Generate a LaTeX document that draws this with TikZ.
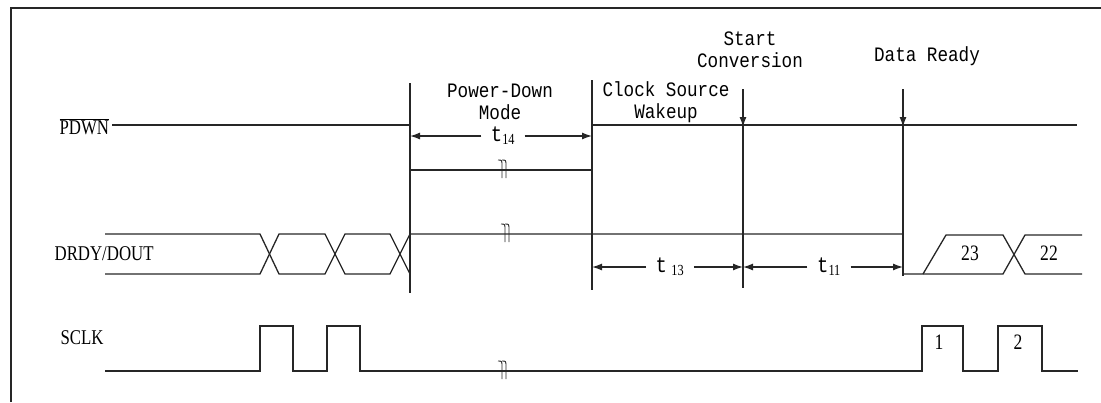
\documentclass[tikz,border=0pt]{standalone}
\usepackage{fontspec}
\setmainfont{Liberation Serif}[FakeStretch=0.8]
\newfontfamily\monofont{Liberation Mono}[FakeStretch=0.86]
\usetikzlibrary{arrows.meta}

\begin{document}
\begin{tikzpicture}[
  x=1pt, y=-1pt,
  line width=1.3pt, draw=black!85,
  every node/.style = {inner sep=0pt, align=center},
  signame/.style = {anchor=west, font=\fontsize{21}{21}\selectfont},
  busval/.style = {font=\fontsize{22}{22}\selectfont},
  note/.style = {font=\monofont\fontsize{20.5}{22}\selectfont},
  period/.style = {inner xsep=9pt, font=\fontsize{22}{22}\selectfont},
  strobe/.style = {-{Latex[length=10pt,width=7pt]}},
  span/.style = {-{Latex[length=10pt,width=7pt]}},
  brk/.pic = {
    \draw[line width=0.9pt] (-4,-10) .. controls (0,-10) .. (0,-4) -- (0,8);
    \draw[line width=0.9pt] (0,-10) .. controls (4,-10) .. (4,-4) -- (4,8);
  }
]
  \useasboundingbox (0,0) rectangle (1101,402);
  \draw[line width=2pt] (11,402) |- (1101,8);

  \coordinate (v1) at (410,83);
  \coordinate (v2) at (592,80);
  \coordinate (v3) at (743,89);
  \coordinate (v4) at (903,89);

  \node[signame] (pdwn) at (59,127) {$\overline{\mbox{PDWN}}$};
  \node[signame] (drdy) at (54,254) {DRDY/DOUT};
  \node[signame] (sclk) at (60,338) {SCLK};

  \node[note] (pdm) at (500,102) {Power-Down\\Mode};
  \node[note] (csw) at (666,102) {Clock Source\\Wakeup};
  \node[note] (sc) at (750,50) {Start\\Conversion};
  \node[note] (dr) at (927,56) {Data Ready};

  \draw (112,125) -- (410,125) (410,170) -- (592,170) (592,125) -- (1077,125);
  \draw (v1) -- (410,293) (v2) -- (592,290);
  \draw[strobe] (v3) -- (743,127);
  \draw (v3) -- (743,288);
  \draw[strobe] (v4) -- (903,127);
  \draw (v4) -- (903,276);

  \node[period] (t14) at (503,136) {{\monofont t}\textsubscript{14}};
  \draw[span] (t14.west) -- (t14.west -| v1);
  \draw[span] (t14.east) -- (t14.east -| v2);
  \node[period] (t13) at (670,267) {{\monofont t}\ \textsubscript{13}};
  \draw[span] (t13.west) -- (t13.west -| v2);
  \draw[span] (t13.east) -- (t13.east -| v3);
  \node[period] (t11) at (829,267) {{\monofont t}\textsubscript{11}};
  \draw[span] (t11.west) -- (t11.west -| v3);
  \draw[span] (t11.east) -- (t11.east -| v4);

  \draw (105,234) -- (260,234) -- (279,274) -- (325,274) -- (345,234) -- (390,234) -- (410,274);
  \draw (105,274) -- (260,274) -- (279,234) -- (325,234) -- (345,274) -- (390,274) -- (410,234) -- (903,234);
  \draw (903,274) -- (1003,274) -- (1025,235) -- (1082,235);
  \draw (923,274) -- (946,235) -- (1003,235) -- (1025,274) -- (1082,274);
  \node[busval] (b23) at (970,253) {23};
  \node[busval] (b22) at (1049,253) {22};

  \draw (105,371) -| (260,326) -| (293,371) -| (327,326) -| (360,371) -| (922,326)
        -| (963,371) -| (998,326) -| (1042,371) -- (1078,371);
  \node[busval] (c1) at (939,342) {1};
  \node[busval] (c2) at (1018,342) {2};

  \pic at (502,170) {brk};
  \pic at (505,234) {brk};
  \pic at (502,371) {brk};
\end{tikzpicture}
\end{document}
